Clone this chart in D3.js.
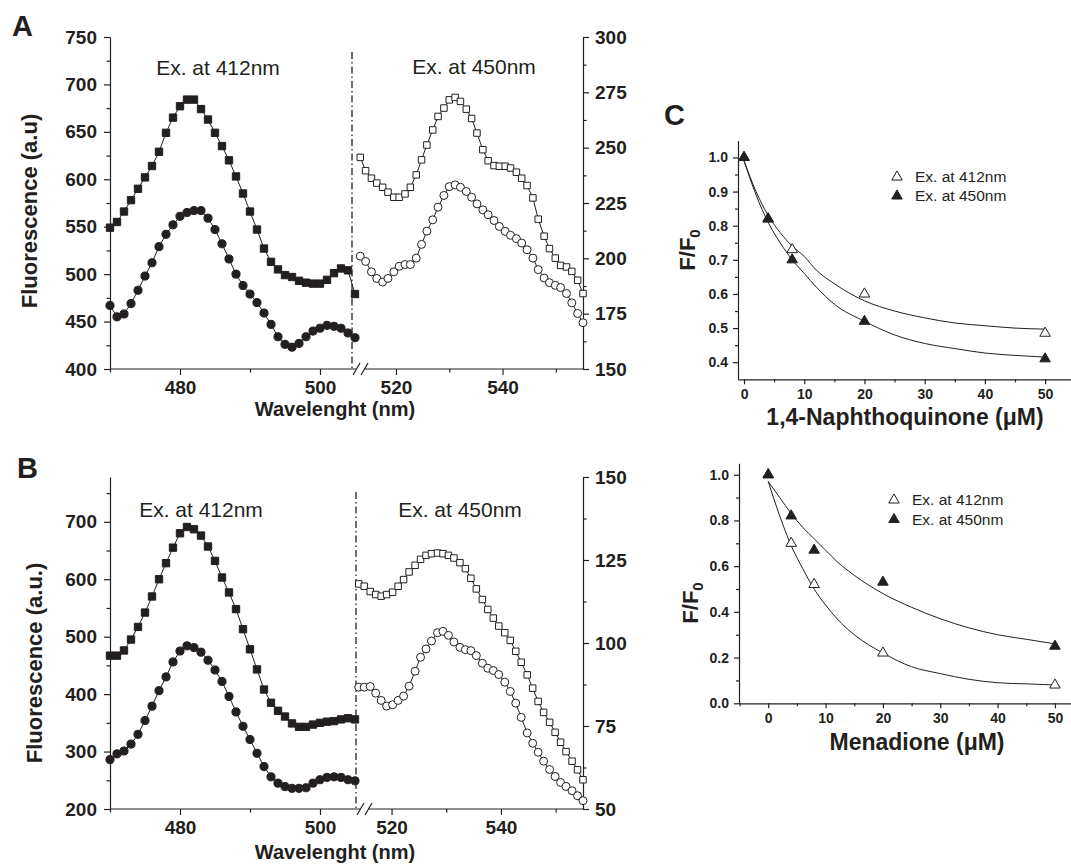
<!DOCTYPE html>
<html>
<head>
<meta charset="utf-8">
<script src="https://cdn.jsdelivr.net/npm/d3@7"></script>
<style>
  body { margin: 0; background: #fff; }
  svg text { font-family: "Liberation Sans", Arial, sans-serif; fill: #231f20; }
  .axis path, .axis line { stroke: #231f20; stroke-width: 1.2; }
</style>
</head>
<body>
<svg id="fig" width="1071" height="868"></svg>
<script>
// ---- panel A / B : emission spectra ----
const wlLeft = [470,471,472,473,474,475,476,477,478,479,480,481,482,483,484,485,486,487,488,489,
  490,491,492,493,494,495,496,497,498,499,500,501,502,503,504,505];

const aFilledSquare = [549,555,566,578,590,602,614,629,649,665,677,684,684,674,663,649,635,620,603,585,
  566,547,527,513,505,499,497,493,491,490,490,494,501,506,504,479];
const aFilledCircle = [467,455,458,469,483,498,512,529,542,552,561,565,567,567,559,547,532,516,500,488,
  479,470,459,447,434,426,423,427,434,440,443,446,445,443,438,433];

const wlRightA = [513.3,514.3,515.4,516.4,517.5,518.5,519.6,520.6,521.7,522.7,523.8,524.8,525.8,526.9,
  527.9,529.0,530.0,531.1,532.1,533.2,534.2,535.2,536.3,537.3,538.4,539.4,540.5,541.5,542.6,543.6,
  544.6,545.7,546.7,547.8,548.8,549.9,550.9,552.0,553.0,554.1,555.1];
const aOpenSquare = [245.6,239.6,236.2,234.0,232.1,229.9,227.6,227.6,229.1,232.1,237.7,244.5,251.2,258.0,
  264.1,267.9,271.6,272.7,270.9,267.4,263.2,256.6,249.1,244.1,241.9,241.6,241.6,240.8,238.9,236.2,
  232.9,227.3,217.7,210.0,204.4,200.1,196.8,196.1,194.1,190.1,184.1];
const aOpenCircle = [201.0,198.6,193.9,190.9,189.3,190.9,193.9,196.4,197.2,197.2,200.1,206.3,212.3,217.4,
  223.1,228.4,232.4,233.2,232.1,230.2,227.6,224.6,221.9,219.7,217.1,214.4,212.2,210.4,208.9,206.9,
  203.9,200.1,194.9,191.1,189.0,187.8,186.8,184.1,179.9,175.1,170.9];

const bFilledSquare = [467,467,476,495,517,542,570,600,628,655,680,691,687,676,657,632,603,577,548,513,
  478,443,408,385,371,361,349,343,343,347,350,352,353,356,358,356];
const bFilledCircle = [286,296,301,313,330,354,379,406,430,456,475,484,481,473,459,442,422,396,369,344,
  321,297,274,256,245,239,236,236,237,245,251,255,256,255,251,249];

const wlRightB = [514.0,515.0,516.1,517.1,518.1,519.1,520.2,521.2,522.2,523.2,524.3,525.3,526.3,527.3,
  528.4,529.4,530.4,531.4,532.5,533.5,534.5,535.5,536.6,537.6,538.6,539.6,540.7,541.7,542.7,543.7,
  544.8,545.8,546.8,547.8,548.9,549.9,550.9,551.9,553.0,554.0,555.0];
const bOpenSquare = [117.8,117.1,115.5,114.6,114.1,114.6,115.3,117.1,119.1,121.4,123.4,125.2,126.4,126.9,
  127.1,126.9,126.4,125.6,124.2,122.4,119.5,116.3,113.1,110.1,107.5,105.1,103.1,100.8,97.5,94.2,
  90.4,86.4,82.4,79.1,76.1,73.1,70.1,67.3,64.4,61.8,58.8];
const bOpenCircle = [86.7,86.7,86.9,84.9,82.7,81.0,81.4,82.7,84.0,87.0,91.5,95.7,98.2,100.6,
  103.1,103.5,102.3,100.3,98.7,98.0,97.7,96.2,93.9,92.4,91.7,90.5,88.2,85.4,81.9,77.6,
  72.9,69.8,67.1,64.4,61.9,59.8,58.0,56.8,55.5,54.0,52.5];

// ---- panel C : quenching ----
const concC = [0, 4, 8, 20, 50];
const nqEx412 = [1.0, 0.82, 0.73, 0.60, 0.485];
const nqEx450 = [1.0, 0.82, 0.70, 0.52, 0.41];
const menEx412 = [1.0, 0.70, 0.52, 0.22, 0.08];
const menEx450 = [1.0, 0.82, 0.67, 0.53, 0.25];

// fitted curves
const fitConc = [0, 2, 4, 6, 8, 10, 12, 15, 20, 25, 30, 35, 40, 45, 50];
const nqFit412 = [0.99, 0.90, 0.83, 0.78, 0.74, 0.71, 0.67, 0.63, 0.58, 0.55, 0.53, 0.515, 0.507, 0.50, 0.497];
const nqFit450 = [0.99, 0.89, 0.81, 0.75, 0.70, 0.66, 0.62, 0.57, 0.52, 0.48, 0.455, 0.44, 0.427, 0.42, 0.415];
const menFit412 = [0.97, 0.82, 0.69, 0.59, 0.50, 0.43, 0.37, 0.30, 0.22, 0.16, 0.13, 0.105, 0.09, 0.085, 0.08];
const menFit450 = [0.97, 0.90, 0.83, 0.77, 0.72, 0.67, 0.62, 0.56, 0.48, 0.42, 0.37, 0.33, 0.30, 0.28, 0.26];

const ink = "#231f20";
const svg = d3.select("#fig");

function styleTicks(sel, size) {
  sel.selectAll("text").attr("font-size", size).attr("font-weight", "bold");
}

function addLabel(txt, x, y, opts = {}) {
  const t = svg.append("text")
    .attr("x", x).attr("y", y)
    .attr("font-size", opts.size || 19)
    .attr("font-weight", opts.bold ? "bold" : "normal")
    .attr("text-anchor", opts.anchor || "start")
    .text(txt);
  return t;
}

function rotLabel(txt, x, y, size, sub) {
  const t = svg.append("text")
    .attr("transform", `translate(${x},${y}) rotate(-90)`)
    .attr("text-anchor", "middle")
    .attr("font-size", size)
    .attr("font-weight", "bold")
    .text(txt);
  if (sub) t.append("tspan").attr("font-size", size * 0.68).attr("dy", "0.3em").text(sub);
}

function spectrumPanel(cfg) {
  const g = svg.append("g");
  const xL = d3.scaleLinear().domain([470, 505]).range([110, 355]);
  const xR = d3.scaleLinear().domain(cfg.xRDomain).range([356, 583]);
  const yL = d3.scaleLinear().domain(cfg.yLDomain).range([cfg.bottom, cfg.top]);
  const yR = d3.scaleLinear().domain(cfg.yRDomain).range([cfg.bottom, cfg.top]);

  // left y axis
  g.append("g").attr("class", "axis").attr("transform", "translate(110,0)")
    .call(d3.axisLeft(yL).tickValues(cfg.yLTicks).tickSize(6).tickPadding(7).tickSizeOuter(0))
    .call(s => styleTicks(s, 19));
  g.append("g").attr("class", "axis").attr("transform", "translate(110,0)")
    .call(d3.axisLeft(yL).tickValues(cfg.yLMinor).tickSize(3.5).tickFormat(""))
    .call(s => s.select(".domain").remove());

  // right y axis
  g.append("g").attr("class", "axis").attr("transform", "translate(583,0)")
    .call(d3.axisRight(yR).tickValues(cfg.yRTicks).tickSize(6).tickPadding(6).tickSizeOuter(0))
    .call(s => styleTicks(s, 19));
  g.append("g").attr("class", "axis").attr("transform", "translate(583,0)")
    .call(d3.axisRight(yR).tickValues(cfg.yRMinor).tickSize(3.5).tickFormat(""))
    .call(s => s.select(".domain").remove());

  // bottom axis, broken
  const xa = g.append("g").attr("class", "axis").attr("transform", `translate(0,${cfg.bottom})`);
  xa.append("g").call(d3.axisBottom(xL).tickValues([480, 500]).tickSize(6).tickPadding(6))
    .call(s => s.select(".domain").remove()).call(s => styleTicks(s, 19));
  xa.append("g").call(d3.axisBottom(xL).tickValues([470, 490]).tickSize(3.5).tickFormat(""))
    .call(s => s.select(".domain").remove());
  xa.append("g").call(d3.axisBottom(xR).tickValues([520, 540]).tickSize(6).tickPadding(6))
    .call(s => s.select(".domain").remove()).call(s => styleTicks(s, 19));
  xa.append("g").call(d3.axisBottom(xR).tickValues([530, 550]).tickSize(3.5).tickFormat(""))
    .call(s => s.select(".domain").remove());
  const bx = cfg.brk;
  xa.append("line").attr("x1", xL.range()[0]).attr("x2", bx + 4).attr("y1", 0).attr("y2", 0);
  xa.append("line").attr("x1", bx + 12).attr("x2", xR.range()[1]).attr("y1", 0).attr("y2", 0);
  [0, 8].forEach(o => xa.append("line")
    .attr("x1", bx + 1 + o).attr("y1", 6).attr("x2", bx + 8 + o).attr("y2", -6));

  // separator
  g.append("line")
    .attr("x1", bx).attr("x2", bx).attr("y1", cfg.sepTop).attr("y2", cfg.bottom)
    .attr("stroke", ink).attr("stroke-width", 1.3).attr("stroke-dasharray", "7,3,1.5,3");

  const series = [
    { x: wlLeft, y: cfg.fSq, xs: xL, ys: yL, sym: d3.symbolSquare, size: 54, fill: ink },
    { x: wlLeft, y: cfg.fCi, xs: xL, ys: yL, sym: d3.symbolCircle, size: 52, fill: ink },
    { x: cfg.wlR, y: cfg.oSq, xs: xR, ys: yR, sym: d3.symbolSquare, size: 42, fill: "#fff" },
    { x: cfg.wlR, y: cfg.oCi, xs: xR, ys: yR, sym: d3.symbolCircle, size: 50, fill: "#fff" }
  ];
  series.forEach(s => {
    const line = d3.line().x((d, i) => s.xs(s.x[i])).y(d => s.ys(d));
    g.append("path").datum(s.y).attr("d", line)
      .attr("fill", "none").attr("stroke", ink).attr("stroke-width", 1);
    g.selectAll(null).data(s.y).join("path")
      .attr("transform", (d, i) => `translate(${s.xs(s.x[i])},${s.ys(d)})`)
      .attr("d", d3.symbol(s.sym, s.size))
      .attr("fill", s.fill).attr("stroke", ink).attr("stroke-width", 1);
  });
}

spectrumPanel({
  top: 37, bottom: 369, sepTop: 52, brk: 352,
  yLDomain: [400, 750], yLTicks: [400, 450, 500, 550, 600, 650, 700, 750],
  yLMinor: [425, 475, 525, 575, 625, 675, 725],
  yRDomain: [150, 300], yRTicks: [150, 175, 200, 225, 250, 275, 300],
  yRMinor: [162.5, 187.5, 212.5, 237.5, 262.5, 287.5],
  xRDomain: [512.5, 555.1],
  fSq: aFilledSquare, fCi: aFilledCircle, wlR: wlRightA, oSq: aOpenSquare, oCi: aOpenCircle
});
spectrumPanel({
  top: 477, bottom: 809, sepTop: 492, brk: 356,
  yLDomain: [200, 778], yLTicks: [200, 300, 400, 500, 600, 700],
  yLMinor: [250, 350, 450, 550, 650, 750],
  yRDomain: [50, 150], yRTicks: [50, 75, 100, 125, 150],
  yRMinor: [62.5, 87.5, 112.5, 137.5],
  xRDomain: [513.5, 555.0],
  fSq: bFilledSquare, fCi: bFilledCircle, wlR: wlRightB, oSq: bOpenSquare, oCi: bOpenCircle
});

// labels for A / B
addLabel("A", 12, 36, { size: 29, bold: true });
addLabel("B", 17, 478, { size: 29, bold: true });
addLabel("Ex. at 412nm", 218, 75, { size: 21, anchor: "middle" });
addLabel("Ex. at 450nm", 474, 74, { size: 21, anchor: "middle" });
addLabel("Ex. at 412nm", 201, 517, { size: 21, anchor: "middle" });
addLabel("Ex. at 450nm", 460, 517, { size: 21, anchor: "middle" });
addLabel("Wavelenght (nm)", 335, 416, { size: 20, bold: true, anchor: "middle" });
addLabel("Wavelenght (nm)", 335, 859, { size: 20, bold: true, anchor: "middle" });
rotLabel("Fluorescence (a.u)", 37, 211, 22);
rotLabel("Fluorescence (a.u.)", 42, 663, 22);

// ---- panel C ----
function quenchPanel(cfg) {
  const g = svg.append("g");
  const x = d3.scaleLinear().domain(cfg.xDomain).range([cfg.left, 1071]);
  const y = d3.scaleLinear().domain(cfg.yDomain).range([cfg.bottom, cfg.top]);

  g.append("g").attr("class", "axis").attr("transform", `translate(${cfg.left},0)`)
    .call(d3.axisLeft(y).tickValues(cfg.yTicks).tickSize(5).tickPadding(5).tickSizeOuter(0)
      .tickFormat(d3.format(".1f")))
    .call(s => styleTicks(s, 14));
  g.append("g").attr("class", "axis").attr("transform", `translate(${cfg.left},0)`)
    .call(d3.axisLeft(y).tickValues(cfg.yMinor).tickSize(3).tickFormat(""))
    .call(s => s.select(".domain").remove());
  g.append("g").attr("class", "axis").attr("transform", `translate(0,${cfg.bottom})`)
    .call(d3.axisBottom(x).tickValues([0, 10, 20, 30, 40, 50]).tickSize(5).tickPadding(5).tickSizeOuter(0))
    .call(s => styleTicks(s, 14));
  g.append("g").attr("class", "axis").attr("transform", `translate(0,${cfg.bottom})`)
    .call(d3.axisBottom(x).tickValues(cfg.xMinor).tickSize(3).tickFormat(""))
    .call(s => s.select(".domain").remove());

  const line = d3.line().x((d, i) => x(fitConc[i])).y(d => y(d)).curve(d3.curveMonotoneX);
  [cfg.fit412, cfg.fit450].forEach(f => g.append("path").datum(f).attr("d", line)
    .attr("fill", "none").attr("stroke", ink).attr("stroke-width", 1));

  const tri = d3.symbol(d3.symbolTriangle, 48);
  [[cfg.d412, "#fff"], [cfg.d450, ink]].forEach(([vals, fill]) => {
    g.selectAll(null).data(vals).join("path")
      .attr("transform", (d, i) => `translate(${x(concC[i])},${y(d)})`)
      .attr("d", tri).attr("fill", fill).attr("stroke", ink).attr("stroke-width", 1);
  });

  // legend
  const lg = cfg.legend;
  [["Ex. at 412nm", "#fff"], ["Ex. at 450nm", ink]].forEach(([txt, fill], i) => {
    g.append("path").attr("transform", `translate(${lg.x},${lg.y + i * lg.dy})`)
      .attr("d", tri).attr("fill", fill).attr("stroke", ink).attr("stroke-width", 1);
    g.append("text").attr("x", lg.x + 18).attr("y", lg.y + i * lg.dy + 5)
      .attr("font-size", 15.5).text(txt);
  });
}

quenchPanel({
  left: 738, top: 140.7, bottom: 379.3, xDomain: [-1, 54.3], yDomain: [0.35, 1.049],
  yTicks: [0.4, 0.5, 0.6, 0.7, 0.8, 0.9, 1.0], yMinor: [0.45, 0.55, 0.65, 0.75, 0.85, 0.95],
  xMinor: [5, 15, 25, 35, 45],
  d412: nqEx412, d450: nqEx450, fit412: nqFit412, fit450: nqFit450,
  legend: { x: 897, y: 177, dy: 19 }
});
quenchPanel({
  left: 739, top: 463.3, bottom: 703.3, xDomain: [-5.1, 52.8], yDomain: [0, 1.05],
  yTicks: [0, 0.2, 0.4, 0.6, 0.8, 1.0], yMinor: [0.1, 0.3, 0.5, 0.7, 0.9],
  xMinor: [-5, 5, 15, 25, 35, 45],
  d412: menEx412, d450: menEx450, fit412: menFit412, fit450: menFit450,
  legend: { x: 894, y: 500, dy: 19.5 }
});

addLabel("C", 664, 125, { size: 29, bold: true });
addLabel("1,4-Naphthoquinone (\u03bcM)", 905, 425, { size: 23, bold: true, anchor: "middle" });
addLabel("Menadione (\u03bcM)", 917, 750, { size: 23, bold: true, anchor: "middle" });
rotLabel("F/F", 695, 250, 22, "0");
rotLabel("F/F", 698, 603, 22, "0");
</script>
</body>
</html>
